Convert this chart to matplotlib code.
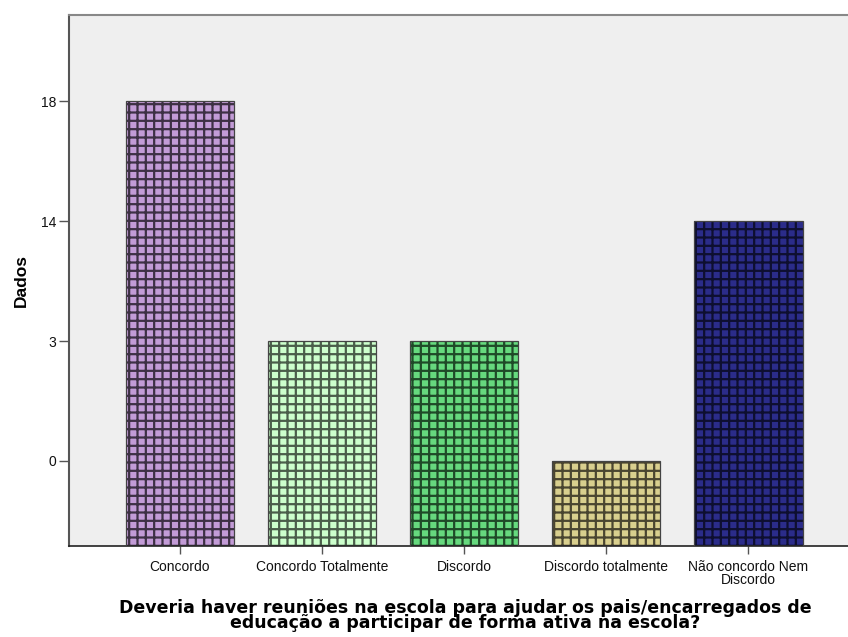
import matplotlib
matplotlib.use("Agg")
import matplotlib.pyplot as plt

categories = ["Concordo", "Concordo Totalmente", "Discordo",
              "Discordo totalmente", "Não concordo Nem\nDiscordo"]
values = [18, 3, 3, 0, 14]
tick_values = [0, 3, 14, 18]

fill_colors = ["#c29bd6", "#ccffcc", "#66d97e", "#d9cf8e", "#2b2c8a"]
hatch_colors = ["#3d3044", "#4a5e4a", "#1f4a28", "#4a4530", "#0e0f30"]

plt.rcParams["hatch.linewidth"] = 1.6

fig = plt.figure(figsize=(8.48, 6.37), dpi=100)
ax = fig.add_axes([69 / 848, 91 / 637, (848 - 69) / 848, (546 - 15) / 637])
ax.set_facecolor("#efefef")

# the value axis is ordinal: each distinct value gets an evenly spaced level
levels = [tick_values.index(v) for v in values]
base = -0.71
x = list(range(len(categories)))
heights = [lv - base for lv in levels]

for i in x:
    ax.bar(i, heights[i], bottom=base, width=0.76, color=fill_colors[i],
           edgecolor=hatch_colors[i], hatch="++", linewidth=0, zorder=2)
ax.bar(x, heights, bottom=base, width=0.76, fill=False,
       edgecolor="#444444", linewidth=0.9, zorder=3)

ax.set_xlim(-0.78, 4.70)
ax.set_ylim(base, 3.72)

ax.set_yticks(range(len(tick_values)))
ax.set_yticklabels([str(t) for t in tick_values])
ax.set_xticks(x)
ax.set_xticklabels(categories, linespacing=0.9)

for lab in ax.get_xticklabels() + ax.get_yticklabels():
    lab.set_family("Liberation Sans")
    lab.set_fontsize(10)
    lab.set_color("#111111")

ax.tick_params(axis="y", length=7, width=1, color="#555555", pad=2)
ax.tick_params(axis="x", length=6, width=1, color="#555555", pad=4)

ax.spines["right"].set_visible(False)
ax.spines["top"].set_color("#888888")
ax.spines["top"].set_linewidth(1.5)
ax.spines["left"].set_color("#555555")
ax.spines["left"].set_linewidth(1.5)
ax.spines["bottom"].set_color("#222222")
ax.spines["bottom"].set_linewidth(1.2)

ax.set_ylabel("Dados", family="Liberation Sans", fontsize=12.5,
              fontweight="bold", labelpad=9)

fig.text(0.549, 0.034,
         "Deveria haver reuniões na escola para ajudar os pais/encarregados de\n"
         "educação a participar de forma ativa na escola?",
         ha="center", va="center", family="DejaVu Sans", fontsize=12.5,
         fontweight="bold", linespacing=0.83)

fig.savefig("out.png", dpi=100)
